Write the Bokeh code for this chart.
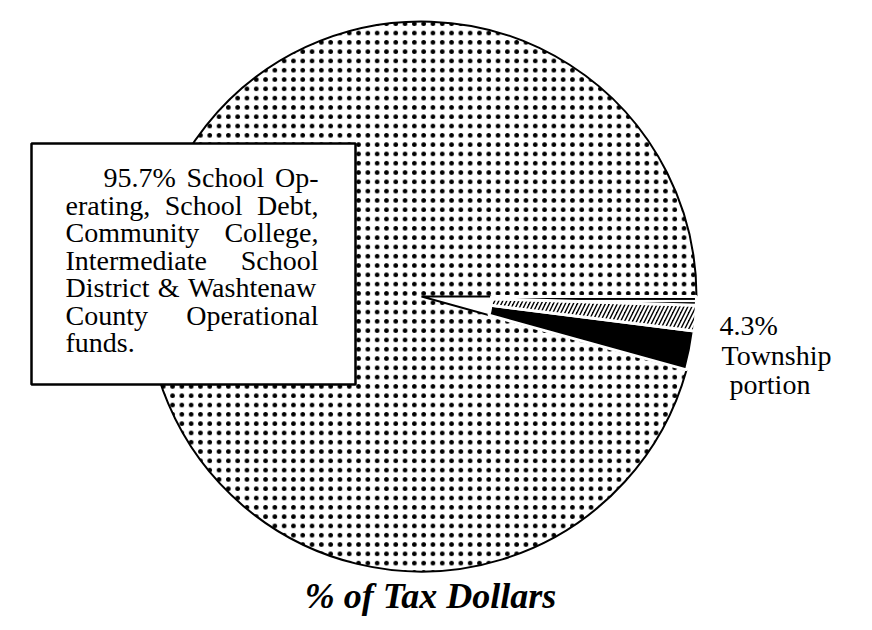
import numpy as np
from bokeh.plotting import figure
from bokeh.models import Range1d, Label, ColumnDataSource
from bokeh.embed import file_html
from bokeh.resources import INLINE

# ---- data ----
shares = [95.7, 4.3]                       # main slice, township slice (%)
township_parts = [2.3, 1.5, 0.5]           # township breakdown, bottom -> top (%)
part_hatch = [" ", "/", "-"]
box_lines = ["95.7% School Op-", "erating, School Debt,", "Community College,",
             "Intermediate School", "District & Washtenaw", "County Operational",
             "funds."]
township_lines = ["4.3%", "Township", "portion"]
title = "% of Tax Dollars"

W, H = 872, 630
p = figure(width=W, height=H, x_range=Range1d(0, W), y_range=Range1d(0, H),
           output_backend="svg", toolbar_location=None, min_border=0,
           x_axis_location=None, y_axis_location=None)
p.grid.visible = False
p.outline_line_color = None
p.background_fill_color = "white"
p.border_fill_color = "white"

def sy(y):
    return H - y

cx, cy = 421, sy(296)
R = 275
frac = 2 * np.pi / sum(shares)
town_angle = shares[1] * frac

# main (dotted) slice, counterclockwise from 0 to 2pi - township
p.wedge(x=cx, y=cy, radius=R, start_angle=0, end_angle=2 * np.pi - town_angle,
        fill_color="white", hatch_pattern="dot",
        hatch_color="black", hatch_scale=9.3, line_color="black", line_width=2)

# township slice broken into parts
cum = np.cumsum([0] + township_parts) * frac
starts = -town_angle + cum[:-1]
ends = -town_angle + cum[1:]
src = ColumnDataSource(dict(start=starts, end=ends, hatch=part_hatch))
p.annular_wedge(x=cx, y=cy, inner_radius=70, outer_radius=R,
                start_angle="start", end_angle="end",
                source=src, fill_color="black", hatch_pattern="hatch",
                hatch_color="white", hatch_scale=8, hatch_weight=2.2,
                line_color="white", line_width=3)

# text box
p.quad(left=31, right=355, top=sy(143), bottom=sy(384), fill_color="white",
       line_color="black", line_width=2.5)

# Times / Liberation Serif advance widths (1/1000 em) for justified setting
TW = {" ": 250, "%": 833, ".": 250, ",": 250, "-": 333, "&": 778,
      "C": 667, "D": 722, "I": 333, "O": 722, "S": 556, "W": 944,
      "a": 444, "b": 500, "c": 444, "d": 500, "e": 444, "f": 333, "g": 500,
      "h": 500, "i": 278, "l": 278, "m": 778, "n": 500, "o": 500, "p": 500,
      "r": 333, "s": 389, "t": 278, "u": 500, "w": 722, "y": 500}
FS = 28
def wwidth(w):
    return sum(TW.get(ch, 500) for ch in w) * FS / 1000.0

x_left, x_right = 65, 318
for i, line in enumerate(box_lines):
    words = line.split(" ")
    x0 = 103 if i == 0 else x_left
    base = sy(177 + 27.5 * i)
    if i == len(box_lines) - 1 or len(words) == 1:
        gap = TW[" "] * FS / 1000.0
    else:
        gap = (x_right - x0 - sum(wwidth(w) for w in words)) / (len(words) - 1)
    x = x0
    for w in words:
        p.add_layout(Label(x=x, y=base, text=w, text_font="Liberation Serif",
                           text_font_size=f"{FS}px", text_baseline="alphabetic",
                           text_align="left", text_color="black"))
        x += wwidth(w) + gap

for i, (t, xo) in enumerate(zip(township_lines, [719, 721, 729])):
    p.add_layout(Label(x=xo, y=sy(325 + 29.5 * i), text=t,
                       text_font="Liberation Serif", text_font_size="28px",
                       text_baseline="alphabetic", text_align="left",
                       text_color="black"))

p.add_layout(Label(x=430, y=sy(595), text=title, text_font="Liberation Serif",
                   text_font_size="36px", text_font_style="bold italic",
                   text_baseline="alphabetic", text_align="center",
                   text_color="black"))

open("out.html", "w").write(file_html(p, INLINE))
